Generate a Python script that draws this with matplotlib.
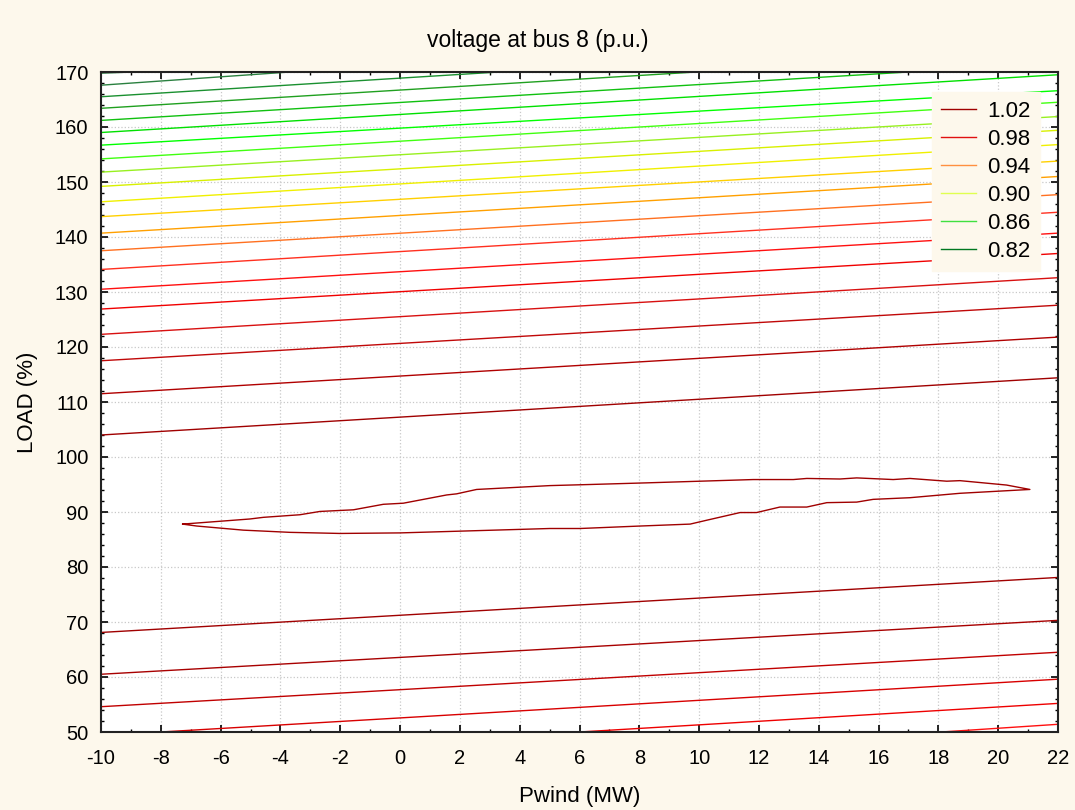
import matplotlib
matplotlib.use('Agg')
import matplotlib.pyplot as plt
from matplotlib.lines import Line2D
from matplotlib.ticker import MultipleLocator

plt.rcParams['font.family'] = ['Liberation Sans', 'DejaVu Sans']
plt.rcParams['axes.unicode_minus'] = False

# contour lines as straight segments (x0, y0) -> (x1, y1)
# top group, from highest load down to the line just above the closed loop
upper_x0 = [-10] * 21
upper_y0 = [169.8, 167.6, 165.5, 163.4, 161.2, 159.0, 156.7, 154.2, 151.8, 149.2, 146.4,
            143.7, 140.7, 137.5, 134.1, 130.5, 126.9, 122.3, 117.5, 111.5, 104.0]
upper_x1 = [-8.9, -3.7, 3.3, 9.9, 17.0] + [22] * 16
upper_y1 = [170, 170, 170, 170, 170,
            169.5, 166.6, 164.5, 161.9, 159.4, 156.8, 153.8, 151.0, 147.7, 144.5,
            140.7, 137.0, 132.6, 127.6, 121.8, 114.4]
upper_colors = ['#1a6a30', '#2a8040', '#1a9030', '#20a020', '#10c010', '#00e000',
                '#00ff00', '#40ff10', '#98f020', '#d8f000', '#f0f000', '#ffd000',
                '#ffa000', '#ff7020', '#ff3020', '#ff1010', '#f00000', '#d81010',
                '#c00808', '#b00000', '#a00000']

# bottom group, below the loop
lower_x0 = [-10, -10, -10, -8.0, 6.0, 18.1]
lower_y0 = [68.1, 60.5, 54.6, 50, 50, 50]
lower_x1 = [22, 22, 22, 22, 22, 22]
lower_y1 = [78.1, 70.3, 64.5, 59.6, 55.2, 51.4]
lower_colors = ['#a00000', '#a80000', '#c00000', '#d80000', '#ee0000', '#ff1010']

# closed loop around load ~ 90 %
loop_x = [-7.27, -5.02, -4.57, -3.35, -2.68, -1.56, -0.56, 0.11, 1.56, 1.89, 2.56, 5.01,
          6.35, 8.25, 10.03, 11.81, 13.15, 13.6, 14.71, 15.27, 16.49, 17.05, 18.28,
          18.72, 20.28, 21.06,
          18.72, 17.05, 15.82, 15.27, 14.27, 13.6, 12.7, 11.92, 11.37, 10.25, 9.7,
          8.03, 6.02, 5.01, 1.89, 0.0, -2.01, -3.68, -5.24, -6.8, -7.27]
loop_y = [87.8, 88.73, 89.03, 89.5, 90.1, 90.4, 91.4, 91.6, 93.1, 93.3, 94.1, 94.8,
          95.0, 95.3, 95.6, 95.9, 95.9, 96.1, 96.0, 96.2, 95.9, 96.1, 95.6,
          95.7, 94.9, 94.1,
          93.4, 92.6, 92.3, 91.8, 91.7, 90.9, 90.9, 89.9, 89.9, 88.5, 87.8,
          87.45, 87.0, 87.0, 86.5, 86.2, 86.1, 86.3, 86.7, 87.45, 87.8]
loop_color = '#a00000'

legend_labels = ['1.02', '0.98', '0.94', '0.90', '0.86', '0.82']
legend_colors = ['#a00000', '#e01010', '#ff9040', '#e0ff50', '#40e040', '#007820']

bg = '#fdf8ec'
fig = plt.figure(figsize=(10.75, 8.1), dpi=100, facecolor=bg)
ax = fig.add_axes([101 / 1075, 1 - 732 / 810, 957 / 1075, 660 / 810])
ax.set_facecolor('white')

for i in range(len(upper_y0)):
    ax.plot([upper_x0[i], upper_x1[i]], [upper_y0[i], upper_y1[i]],
            color=upper_colors[i], lw=1.0)
for i in range(len(lower_y0)):
    ax.plot([lower_x0[i], lower_x1[i]], [lower_y0[i], lower_y1[i]],
            color=lower_colors[i], lw=1.0)
ax.plot(loop_x, loop_y, color=loop_color, lw=1.0)

ax.set_xlim(-10, 22)
ax.set_ylim(50, 170)
ax.xaxis.set_major_locator(MultipleLocator(2))
ax.xaxis.set_minor_locator(MultipleLocator(1))
ax.yaxis.set_major_locator(MultipleLocator(10))
ax.yaxis.set_minor_locator(MultipleLocator(2))
ax.tick_params(which='both', direction='in', top=True, right=True, colors='black',
               labelsize=14.5)
ax.tick_params(which='major', length=5, width=1.2)
ax.tick_params(axis='x', which='major', pad=12)
ax.tick_params(axis='y', which='major', pad=9)
ax.tick_params(which='minor', length=2.5, width=1.0)
ax.grid(True, which='major', color='#c8c8c8', linestyle=':', linewidth=0.9)
for s in ax.spines.values():
    s.set_linewidth(1.5)
    s.set_color('#222222')

fig.text(0.5, 1 - 40 / 810, 'voltage at bus 8 (p.u.)', fontsize=16.5,
         ha='center', va='center')
ax.set_xlabel('Pwind (MW)', fontsize=16, labelpad=13)
ax.set_ylabel('LOAD (%)', fontsize=16, labelpad=12)

handles = [Line2D([0], [0], color=c, lw=1.0) for c in legend_colors]
leg = ax.legend(handles, legend_labels, loc='upper right', bbox_to_anchor=(0.981, 0.97),
                fontsize=16, frameon=True, fancybox=False, labelspacing=0.315,
                handlelength=1.6, handletextpad=0.5, borderpad=0.4, borderaxespad=0)
leg.get_frame().set_facecolor(bg)
leg.get_frame().set_edgecolor(bg)
leg.get_frame().set_alpha(1)

fig.savefig('out.png', dpi=100, facecolor=bg)
